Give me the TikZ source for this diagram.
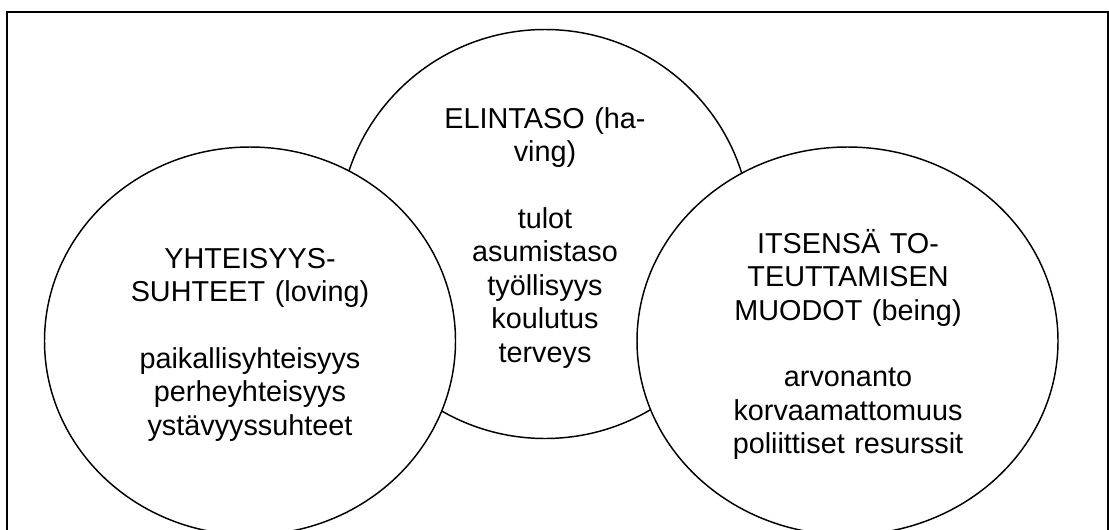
\documentclass[tikz,border=0pt]{standalone}
\usepackage{fontspec}
\setmainfont{Liberation Sans}
\usetikzlibrary{shapes.geometric}
\begin{document}
\begin{tikzpicture}[x=0.75pt,y=-0.75pt,
  ring/.style={ellipse, draw=black, line width=1.1pt, fill=white, inner sep=0pt},
  ringtext/.style={text width=300pt, align=center, anchor=base, inner sep=0pt,
    font=\fontsize{21.6pt}{25.05pt}\selectfont},
  framestyle/.style={line width=1.5pt, draw=black}]
\useasboundingbox (0,0) rectangle (1109,529);
\clip (0,0) rectangle (1109,529);
\coordinate (fbl) at (6.5,560);
\coordinate (ftl) at (6.5,12);
\coordinate (ftr) at (1108,12);
\coordinate (fbr) at (1108,560);
\draw[framestyle] (fbl) -- (ftl) -- (ftr) -- (fbr);
\node[ring, minimum width=309pt, minimum height=306.75pt] (having) at (545,234) {};
\node[ring, minimum width=308.25pt, minimum height=291pt] (loving) at (250,341) {};
\node[ring, minimum width=315.75pt, minimum height=291pt] (being) at (847.5,341) {};
\node[ringtext] (havingtext) at (545,128.3) {ELINTASO (ha-\\ving)\\[25.05pt]tulot\\asumistaso\\työllisyys\\koulutus\\terveys};
\node[ringtext] (lovingtext) at (250,268) {YHTEISYYS-\\SUHTEET (loving)\\[25.05pt]paikallisyhteisyys\\perheyhteisyys\\ystävyyssuhteet};
\node[ringtext] (beingtext) at (848,253.3) {ITSENSÄ TO-\\TEUTTAMISEN\\MUODOT (being)\\[25.05pt]arvonanto\\korvaamattomuus\\poliittiset resurssit};
\end{tikzpicture}
\end{document}
